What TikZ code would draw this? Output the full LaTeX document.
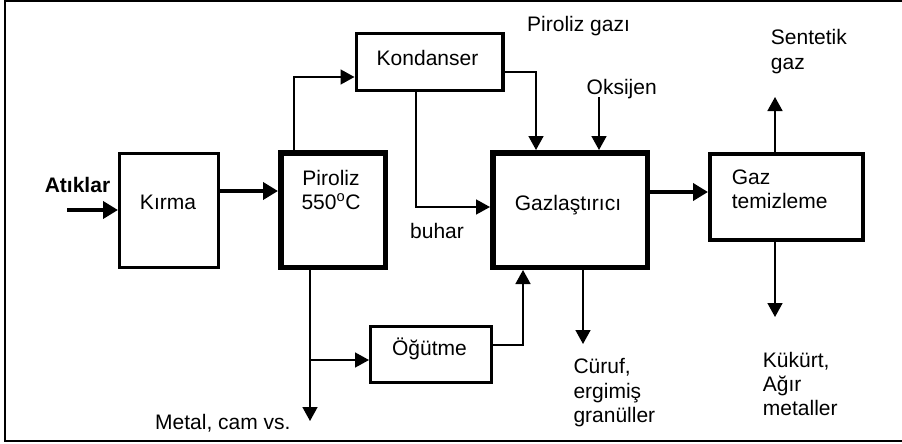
\documentclass[tikz,border=0pt]{standalone}
\usepackage{fontspec}
\setmainfont{Liberation Sans}
\usetikzlibrary{arrows.meta}
% stacked lines of text; the baseline is that of the first line
\newcommand\textrows[2][c]{\begin{tabular}[t]{@{}#1@{}}#2\end{tabular}}
\begin{document}
\begin{tikzpicture}[x=1pt,y=-1pt,
  every node/.style={font=\fontsize{21}{24.3}\selectfont, inner sep=0pt},
  box/.style={draw, rectangle, line width=#1},
  txt/.style={anchor=base},
  txtl/.style={anchor=base west},
  arr/.style={line width=1.6pt, -{Triangle[length=14pt,width=15pt]}},
  bigarr/.style={line width=4pt, -{Triangle[length=15pt,width=17pt]}},
  frame/.style={line width=2.2pt}
]
\useasboundingbox (0,0) rectangle (902,444);
\draw[frame] (903,1) -- (5,1) -- (5,441) -- (903,441);

% process blocks
\node[box=3pt,   minimum width=99pt,    minimum height=114pt]   (kirma) at (169,210.5) {};
\node[box=5.5pt, minimum width=104.5pt, minimum height=114.5pt] (pir)   at (333,210)   {};
\node[box=3.5pt, minimum width=146.5pt, minimum height=56.5pt]  (kond)  at (429.5,62)  {};
\node[box=5.5pt, minimum width=154.5pt, minimum height=114.5pt] (gaz)   at (570,210)   {};
\node[box=4pt,   minimum width=153pt,   minimum height=86pt]    (tem)   at (786.5,197) {};
\node[box=3pt,   minimum width=121pt,   minimum height=56pt]    (ogut)  at (431,354.5) {};

% block texts
\node[txt] (kirma-t) at (168,209) {Kırma};
\node[txt] (pir-t) at (331,185) {\textrows{Piroliz\\550\textsuperscript{o}C}};
\node[txt] (kond-t) at (427.5,65.7) {Kondanser};
\node[txt] (gaz-t) at (568,210) {Gazlaştırıcı};
\node[txtl] (tem-t) at (731.7,184) {\textrows[l]{Gaz\\temizleme}};
\node[txt] (ogut-t) at (429.5,355) {Öğütme};

% stream labels
\node[txt, font=\fontsize{21}{24.3}\selectfont\bfseries] (atik) at (77.5,192) {Atıklar};
\node[txtl] (buhar) at (410,238) {buhar};
\node[txtl] (pgaz) at (527,32) {Piroliz gazı};
\node[txt] (oks-t) at (621.7,94) {Oksijen};
\node[txtl] (syn-t) at (770.7,45) {\textrows[l]{Sentetik\\gaz}};
\node[txtl] (cur-t) at (573.3,373.7) {\textrows[l]{Cüruf,\\ergimiş\\granüller}};
\node[txtl] (kuk-t) at (762.7,367) {\textrows[l]{Kükürt,\\Ağır\\metaller}};
\node[txtl] (met-t) at (155,429) {Metal, cam vs.};

% free ends of the streams
\coordinate (in)  at (67,210);
\coordinate (oks) at (599,97);
\coordinate (syn) at (775,97);
\coordinate (kuk) at (775,317);
\coordinate (cur) at (583,344);
\coordinate (met) at (310,421);
\coordinate (br)  at (310,360);

% main flow
\draw[bigarr] (in) -- (in -| kirma.west);
\draw[bigarr] ([yshift=19.5pt]kirma.east) -- ([yshift=19.5pt]kirma.east -| pir.west);
\draw[bigarr] ([yshift=18pt]gaz.east) -- ([yshift=18pt]gaz.east -| tem.west);

% side streams
\draw[arr] ([xshift=-39pt]pir.north) |- ([yshift=-15pt]kond.west);
\draw[arr] ([xshift=-13.5pt]kond.south) |- ([yshift=3pt]gaz.west);
\draw[arr] ([yshift=-10pt]kond.east) -| ([xshift=-34pt]gaz.north);
\draw[arr] (oks) -- (oks |- gaz.north);
\draw[arr] (syn |- tem.north) -- (syn);
\draw[arr] (kuk |- tem.south) -- (kuk);
\draw[arr] (cur |- gaz.south) -- (cur);
\draw[arr] ([yshift=9.5pt]ogut.east) -| ([xshift=-47pt]gaz.south);
\draw[arr] (met |- pir.south) -- (met);
\draw[arr] (br) -- (br -| ogut.west);
\end{tikzpicture}
\end{document}
